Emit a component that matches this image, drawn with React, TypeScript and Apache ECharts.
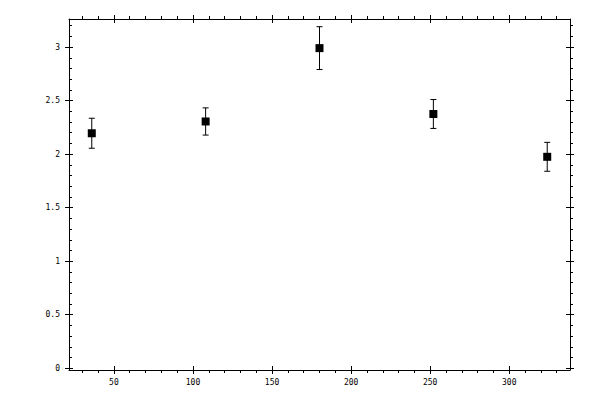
import * as echarts from "echarts";
import { useEffect, useRef } from "react";

/** 测点横坐标 */
const X_VALUES = [36, 108, 180, 252, 324];
/** 测点均值 */
const Y_VALUES = [2.195, 2.305, 2.99, 2.375, 1.975];
/** 误差棒半长 */
const Y_ERRORS = [0.14, 0.127, 0.2, 0.135, 0.135];

/** 主刻度与次刻度 */
const X_MAJOR = [50, 100, 150, 200, 250, 300];
const X_MINOR = [
  30, 40, 60, 70, 80, 90, 110, 120, 130, 140, 160, 170, 180, 190, 210, 220, 230, 240, 260, 270,
  280, 290, 310, 320, 330,
];
const Y_MAJOR = [0, 0.5, 1, 1.5, 2, 2.5, 3];
const Y_MINOR = [
  0.1, 0.2, 0.3, 0.4, 0.6, 0.7, 0.8, 0.9, 1.1, 1.2, 1.3, 1.4, 1.6, 1.7, 1.8, 1.9, 2.1, 2.2, 2.3,
  2.4, 2.6, 2.7, 2.8, 2.9, 3.1, 3.2,
];

const X_MIN = 21.6;
const X_MAX = 338.4;
const Y_MIN = -0.016;
const Y_MAX = 3.262;

const INK = "#000";
const LABEL_FONT = { color: INK, fontSize: 8, fontFamily: "DejaVu Sans Mono" };

type TickSpec = {
  values: number[];
  inside: boolean;
  length: number;
  line?: boolean;
  labels?: boolean;
};

function xAxisOf(position: "top" | "bottom", t: TickSpec) {
  return {
    type: "value" as const,
    position,
    min: X_MIN,
    max: X_MAX,
    axisLine: { show: !!t.line, onZero: false, lineStyle: { color: INK, width: 1 } },
    axisTick: {
      show: true,
      inside: t.inside,
      length: t.length,
      customValues: t.values,
      lineStyle: { color: INK, width: 1 },
    },
    axisLabel: t.labels
      ? { show: true, customValues: t.values, margin: 8, ...LABEL_FONT }
      : { show: false },
    splitLine: { show: false },
  };
}

function yAxisOf(position: "left" | "right", t: TickSpec) {
  return {
    type: "value" as const,
    position,
    min: Y_MIN,
    max: Y_MAX,
    axisLine: { show: !!t.line, onZero: false, lineStyle: { color: INK, width: 1 } },
    axisTick: {
      show: true,
      inside: t.inside,
      length: t.length,
      customValues: t.values,
      lineStyle: { color: INK, width: 1 },
    },
    axisLabel: t.labels
      ? { show: true, customValues: t.values, margin: 9, ...LABEL_FONT }
      : { show: false },
    splitLine: { show: false },
  };
}

function buildOption(): echarts.EChartsOption {
  const errData = X_VALUES.map((x, i) => [x, Y_VALUES[i] - Y_ERRORS[i], Y_VALUES[i] + Y_ERRORS[i]]);
  const pointData = X_VALUES.map((x, i) => [x, Y_VALUES[i]]);

  // 误差棒：竖线 + 上下短横帽
  const renderErr: echarts.CustomSeriesRenderItem = (params, api) => {
    const x = api.value(0) as number;
    const lo = api.coord([x, api.value(1)]);
    const hi = api.coord([x, api.value(2)]);
    const half = 3;
    const style = { stroke: INK, lineWidth: 1 };
    return {
      type: "group",
      children: [
        { type: "line", shape: { x1: lo[0], y1: lo[1], x2: hi[0], y2: hi[1] }, style },
        { type: "line", shape: { x1: hi[0] - half, y1: hi[1], x2: hi[0] + half, y2: hi[1] }, style },
        { type: "line", shape: { x1: lo[0] - half, y1: lo[1], x2: lo[0] + half, y2: lo[1] }, style },
      ],
    } as echarts.CustomSeriesRenderItemReturn;
  };

  return {
    animation: false,
    backgroundColor: "#fff",
    grid: { left: 69, right: 30, top: 19, bottom: 30, containLabel: false },
    xAxis: [
      xAxisOf("bottom", { values: X_MAJOR, inside: false, length: 4, line: true, labels: true }),
      xAxisOf("bottom", { values: X_MAJOR, inside: true, length: 4 }),
      xAxisOf("bottom", { values: X_MINOR, inside: false, length: 3 }),
      xAxisOf("top", { values: X_MAJOR, inside: false, length: 4, line: true }),
      xAxisOf("top", { values: X_MAJOR, inside: true, length: 4 }),
      xAxisOf("top", { values: X_MINOR, inside: false, length: 3 }),
    ],
    yAxis: [
      yAxisOf("left", { values: Y_MAJOR, inside: false, length: 4, line: true, labels: true }),
      yAxisOf("left", { values: Y_MAJOR, inside: true, length: 4 }),
      yAxisOf("left", { values: Y_MINOR, inside: true, length: 3 }),
      yAxisOf("right", { values: Y_MAJOR, inside: false, length: 4, line: true }),
      yAxisOf("right", { values: Y_MAJOR, inside: true, length: 4 }),
      yAxisOf("right", { values: Y_MINOR, inside: false, length: 3 }),
    ],
    series: [
      {
        type: "custom",
        xAxisIndex: 0,
        yAxisIndex: 0,
        renderItem: renderErr,
        encode: { x: 0, y: [1, 2] },
        data: errData,
        z: 2,
      },
      {
        type: "scatter",
        xAxisIndex: 0,
        yAxisIndex: 0,
        symbol: "rect",
        symbolSize: 8,
        itemStyle: { color: INK, opacity: 1 },
        data: pointData,
        z: 3,
      },
    ],
  };
}

export default function App() {
  const ref = useRef<HTMLDivElement | null>(null);

  useEffect(() => {
    const el = ref.current;
    if (!el) {
      return undefined;
    }
    const chart = echarts.init(el, undefined, { renderer: "svg" });
    chart.setOption(buildOption());
    return () => {
      chart.dispose();
    };
  }, []);

  return (
    <div
      ref={ref}
      style={{ position: "fixed", left: 0, top: 0, width: 600, height: 400, background: "#fff" }}
    />
  );
}
